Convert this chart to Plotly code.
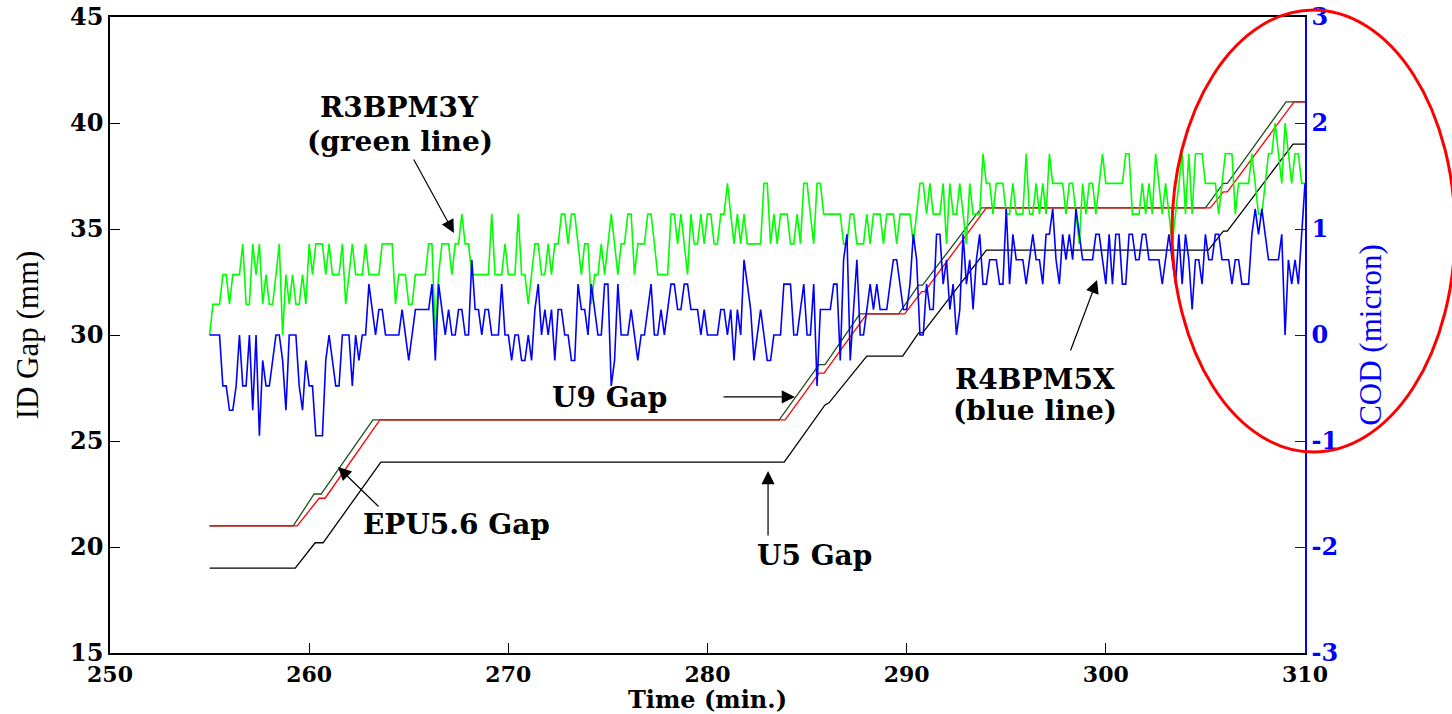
import numpy as np
import plotly.graph_objects as go

# ---------------------------------------------------------------
# Data
# ---------------------------------------------------------------
# BPM sampling grid: one reading every 10 s from 255 to 310 min
time_min = np.linspace(255, 310, 331)

# R3BPM3Y orbit (micron), green trace
r3bpm3y = [
    0, 0.29, 0.29, 0.29, 0.57, 0.57, 0.29, 0.57, 0.57, 0.57,
    0.86, 0.29, 0.29, 0.86, 0.57, 0.86, 0.29, 0.57, 0.29, 0.29,
    0.57, 0.86, 0, 0.57, 0.29, 0.57, 0.29, 0.29, 0.57, 0.29,
    0.86, 0.57, 0.86, 0.86, 0.86, 0.57, 0.86, 0.57, 0.57, 0.57,
    0.86, 0.29, 0.57, 0.86, 0.57, 0.57, 0.57, 0.86, 0.57, 0.57,
    0.57, 0.57, 0.86, 0.86, 0.86,
    0.86, 0.29, 0.57, 0.57, 0.57, 0.29, 0.29, 0.57, 0.57, 0.57,
    0.57, 0.86, 0.86, 0, 0.57, 0.86, 0.86, 0.86, 0.57, 0.86,
    0.86, 1.14, 0.86, 0.86, 0.57, 0.57, 0.57, 0.57, 0.57, 0.57,
    1.14, 0.57, 0.57, 0.57, 0.86, 0.57, 0.57, 0.57, 1.14, 0.57,
    0.57, 0.29, 0.57, 0.86, 0.86, 0.57, 0.57, 0.86, 0.57, 0.86,
    0.86, 1.14, 1.14, 0.86,
    1.14, 1.14, 0.86, 0.57, 0.86, 0.86, 0.29, 0.57, 0.57, 0.86,
    0.57, 0.86, 1.14, 0.86, 0.57, 0.86, 0.86, 1.14, 1.14, 0.57,
    0.86, 0.86, 0.86, 1.14, 1.14, 0.86, 0.57, 0.57, 0.57, 0.57,
    1.14, 1.14, 0.86, 1.14, 0.86, 0.57, 1.14, 0.86, 0.86, 1.14,
    0.86, 1.14, 1.14, 0.86, 0.86, 1.14, 1.14, 1.43, 1.14, 0.86,
    1.14, 0.86, 1.14, 0.86, 0.86,
    0.86, 0.86, 0.86, 1.43, 1.43, 0.86, 1.14, 0.86, 1.14, 1.14,
    1.14, 0.86, 0.86, 1.14, 0.86, 1.43, 1.43, 1.14, 0.86, 1.43,
    1.43, 1.14, 1.14, 1.14, 1.14, 1.14, 1.14, 0.86, 0.86, 1.14,
    1.14, 0.86, 0.86, 0.86, 1.14, 0.86, 1.14, 1.14, 1.14, 0.86,
    1.14, 1.14, 1.14, 0.86, 1.14, 1.14, 1.14, 1.14, 0.86, 1.14,
    1.43, 1.43, 1.14, 1.43,
    1.14, 1.14, 1.14, 1.43, 0.86, 1.43, 1.14, 1.14, 1.43, 1.14,
    0.86, 1.43, 1.14, 1.14, 1.14, 1.71, 1.43, 1.43, 1.14, 1.43,
    1.43, 1.43, 1.14, 1.14, 1.43, 1.14, 1.14, 1.14, 1.71, 1.14,
    1.14, 1.43, 1.14, 1.43, 1.14, 1.71, 1.43, 1.43, 1.43, 1.43,
    1.14, 1.43, 1.43, 1.14, 0.86, 1.43, 1.14, 1.43, 1.43, 1.14,
    1.43, 1.71, 1.43,
    1.43, 1.43, 1.43, 1.43, 1.43, 1.71, 1.71, 1.14, 1.14, 1.14,
    1.43, 1.14, 1.43, 1.14, 1.71, 1.43, 1.14, 1.43, 1.14, 0.86,
    1.14, 1.43, 1.71, 1.14, 1.71, 1.14, 1.71, 1.71, 1.71, 1.43,
    1.43, 1.43, 1.43, 1.14, 1.43, 1.71, 1.71, 1.71, 1.14, 1.43,
    1.43, 1.43, 1.43, 1.71, 1.43, 1.14, 1.14, 1.43, 1.71, 1.71,
    2.0, 1.71, 1.43, 2.0, 1.71, 1.43, 1.71, 1.71, 1.43, 1.43,
]

# R4BPM5X orbit (micron), blue trace
r4bpm5x = [
    0, 0, 0, 0, -0.48, -0.48, -0.71, -0.71, -0.48, 0,
    -0.48, -0.48, 0, -0.71, 0, -0.95, -0.24, -0.48, -0.48, -0.24,
    0, 0, -0.24, -0.71, 0, 0, 0, -0.48, -0.71, -0.24,
    -0.48, -0.48, -0.95, -0.95, -0.95, -0.24, 0, -0.24, -0.48, -0.48,
    0, 0, 0, -0.48, 0, -0.24, 0, 0, 0.48, 0.24,
    0, 0.24, 0.24, 0, 0,
    0, 0, 0, 0.24, 0, -0.24, 0, 0.24, 0.24, 0.24,
    0.24, 0.24, 0.48, -0.24, 0.48, 0.24, 0, 0.24, 0, 0,
    0.24, 0.24, 0, 0, 0.71, 0.24, 0.24, 0, 0.24, 0.24,
    0, 0, 0, 0.48, 0, 0, -0.24, 0, 0, -0.24,
    -0.24, 0, -0.24, 0.24, 0.48, 0, 0.24, 0, 0.24, -0.24,
    0.24, 0.24, 0, 0,
    -0.24, -0.24, 0.48, 0.24, 0.24, 0, 0.48, 0.24, 0, 0,
    0.48, 0.48, -0.48, -0.24, 0.48, 0, 0, 0, 0.24, 0,
    -0.24, 0, 0, 0.24, 0.48, 0, 0, 0.24, 0, 0.24,
    0.48, 0.48, 0.24, 0.24, 0.48, 0.48, 0.24, 0.24, 0.24, 0,
    0.24, 0, 0, 0, 0, 0.24, 0.24, 0, 0.24, -0.24,
    0.24, 0, 0.71, 0.48, 0.24,
    -0.24, 0, 0.24, 0, -0.24, -0.24, 0, 0, 0, 0.48,
    0.48, 0.48, 0, 0, 0.24, 0.48, 0, 0, 0.48, -0.48,
    0.24, 0.24, 0.24, 0.24, 0.48, 0.48, -0.24, 0.71, 0.95, -0.24,
    0.24, 0.71, 0, 0, 0.24, 0.48, 0.24, 0.48, 0.24, 0.24,
    0.24, 0.48, 0.71, 0.71, 0.48, 0.24, 0.24, 0.48, 0.95, 0.71,
    0, 0, 0.48, 0.24,
    0.24, 0.95, 0.95, 0.48, 0.71, 0.24, 0.48, 0, 0.24, 0.95,
    0.48, 0.71, 0.24, 0.71, 0.95, 0.48, 0.48, 0.71, 0.71, 0.71,
    0.48, 0.48, 1.19, 0.48, 0.95, 0.71, 0.71, 0.71, 0.48, 0.71,
    0.95, 0.71, 0.71, 0.48, 0.95, 0.95, 1.19, 0.71, 0.48, 0.95,
    0.71, 0.95, 0.71, 1.19, 0.95, 0.71, 0.71, 0.71, 0.71, 0.95,
    0.95, 0.71, 0.48,
    0.95, 0.48, 0.95, 0.95, 0.48, 0.48, 0.95, 0.95, 0.71, 0.71,
    0.95, 0.95, 0.71, 0.71, 0.71, 0.71, 0.48, 0.71, 0.95, 0.71,
    0.48, 0.95, 0.48, 0.95, 0.71, 0.24, 0.71, 0.71, 0.48, 0.95,
    0.71, 0.71, 0.95, 0.95, 0.71, 0.71, 0.71, 0.48, 0.71, 0.71,
    0.48, 0.48, 0.48, 0.95, 1.19, 0.95, 1.19, 0.95, 0.71, 0.71,
    0.71, 0.71, 0.95, 0, 0.71, 0.48, 0.71, 0.48, 0.95, 1.43,
]

# Insertion-device gap set-points (mm) at the ramp corners
u9_time = [255, 259.2, 260.25, 260.6, 263.2, 283.6, 285.6, 285.9, 287.65,
           289.6, 290.6, 290.8, 293.75, 305.0, 305.9, 306.1, 309.05, 310]
u9_gap = [21, 21, 22.5, 22.5, 26, 26, 28.6, 28.6, 31,
          31, 32.35, 32.35, 36, 36, 37.15, 37.15, 41, 41]

epu56_time = [255, 259.4, 260.5, 260.8, 263.55, 283.9, 285.6, 285.85, 288.0,
              289.9, 290.75, 290.9, 294.0, 305.25, 305.9, 306.1, 309.45, 310]
epu56_gap = [21, 21, 22.3, 22.3, 26, 26, 28.2, 28.2, 31,
             31, 32.05, 32.05, 36, 36, 36.75, 36.75, 41, 41]

u5_time = [255, 259.3, 260.3, 260.7, 263.6, 283.85, 285.9, 286.1, 288.0,
           289.8, 290.6, 290.8, 294.0, 305.15, 305.9, 306.1, 309.4, 310]
u5_gap = [19, 19, 20.2, 20.2, 24, 24, 26.7, 26.8, 29,
          29, 30.1, 30.1, 34, 34, 34.9, 34.9, 39, 39]

# Axis ticks
time_ticks = [250, 260, 270, 280, 290, 300, 310]
gap_ticks = [15, 20, 25, 30, 35, 40, 45]
cod_ticks = [-3, -2, -1, 0, 1, 2, 3]
cod_tick_text = ["-3", "-2", "-1", "0", "1", "2", "3"]

# ---------------------------------------------------------------
# Figure
# ---------------------------------------------------------------
SERIF_BOLD = dict(family="DejaVu Serif", weight="bold")
fig = go.Figure()

fig.add_trace(go.Scatter(x=u5_time, y=u5_gap, mode="lines", name="U5 Gap",
                         line=dict(color="#000000", width=1.3)))
fig.add_trace(go.Scatter(x=u9_time, y=u9_gap, mode="lines", name="U9 Gap",
                         line=dict(color="#1e4d1e", width=1.3)))
fig.add_trace(go.Scatter(x=epu56_time, y=epu56_gap, mode="lines", name="EPU5.6 Gap",
                         line=dict(color="#ff0000", width=1.3)))
fig.add_trace(go.Scatter(x=time_min, y=r3bpm3y, mode="lines", name="R3BPM3Y",
                         yaxis="y2", line=dict(color="#00ff00", width=1.6)))
fig.add_trace(go.Scatter(x=time_min, y=r4bpm5x, mode="lines", name="R4BPM5X",
                         yaxis="y2", line=dict(color="#0000ff", width=1.6)))

# Labels and pointer arrows (gap-axis coordinates)
labels = [
    ("R3BPM3Y", 264.56, 40.71),
    ("(green line)", 264.56, 39.15),
    ("U9 Gap", 275.10, 27.03),
    ("EPU5.6 Gap", 267.42, 21.04),
    ("U5 Gap", 285.35, 19.58),
    ("R4BPM5X", 296.44, 27.92),
    ("(blue line)", 296.44, 26.46),
]
arrows = [  # (tip_t, tip_mm, tail_t, tail_mm)
    (267.27, 34.81, 265.21, 38.35),
    (284.39, 27.08, 280.73, 27.08),
    (261.45, 23.77, 263.56, 21.84),
    (283.04, 23.58, 283.04, 20.47),
    (299.56, 32.59, 298.20, 29.20),
]

annotations = []
for text, t, mm in labels:
    annotations.append(dict(x=t, y=mm, xref="x", yref="y", text=text,
                            showarrow=False, xanchor="center", yanchor="middle",
                            font=dict(size=28, color="#000000", **SERIF_BOLD)))
for tip_t, tip_mm, tail_t, tail_mm in arrows:
    annotations.append(dict(x=tip_t, y=tip_mm, xref="x", yref="y",
                            ax=tail_t, ay=tail_mm, axref="x", ayref="y",
                            text="", showarrow=True, arrowhead=2,
                            arrowsize=2.2, arrowwidth=1.2, arrowcolor="#000000"))

fig.update_layout(
    width=1452, height=714,
    margin=dict(l=110, r=147, t=17, b=61),
    paper_bgcolor="white", plot_bgcolor="white",
    showlegend=False,
    annotations=annotations,
    shapes=[dict(type="circle", xref="paper", yref="paper",
                 x0=0.8887, x1=1.1255, y0=0.316, y1=1.011,
                 line=dict(color="#ff0000", width=3))],
    xaxis=dict(
        range=[250, 310], tickvals=time_ticks,
        ticks="inside", ticklen=10, tickcolor="#000000",
        showline=True, linecolor="#000000", linewidth=1.5, mirror=True,
        showgrid=False, zeroline=False, automargin=False,
        ticklabelstandoff=1,
        tickfont=dict(size=22, color="#000000", **SERIF_BOLD),
        title=dict(text="Time (min.)", standoff=0,
                   font=dict(size=24, color="#000000", **SERIF_BOLD)),
    ),
    yaxis=dict(
        range=[15, 45], tickvals=gap_ticks,
        ticks="inside", ticklen=10, tickcolor="#000000",
        showline=True, linecolor="#000000", linewidth=1.5,
        showgrid=False, zeroline=False, automargin=False,
        tickfont=dict(size=24, color="#000000", **SERIF_BOLD),
        title=dict(text="ID Gap (mm)", standoff=22,
                   font=dict(size=31, color="#000000", family="Liberation Serif")),
    ),
    yaxis2=dict(
        range=[-3, 3], tickvals=cod_ticks, ticktext=cod_tick_text,
        overlaying="y", side="right",
        ticks="inside", ticklen=10, tickcolor="#0000ff",
        showline=True, linecolor="#0000ff", linewidth=1.5,
        showgrid=False, zeroline=False, automargin=False,
        tickfont=dict(size=24, color="#0000ff", **SERIF_BOLD),
        title=dict(text="COD (micron)", standoff=22,
                   font=dict(size=31, color="#0000ff", family="Liberation Serif")),
    ),
)

fig.write_html("out.html")
